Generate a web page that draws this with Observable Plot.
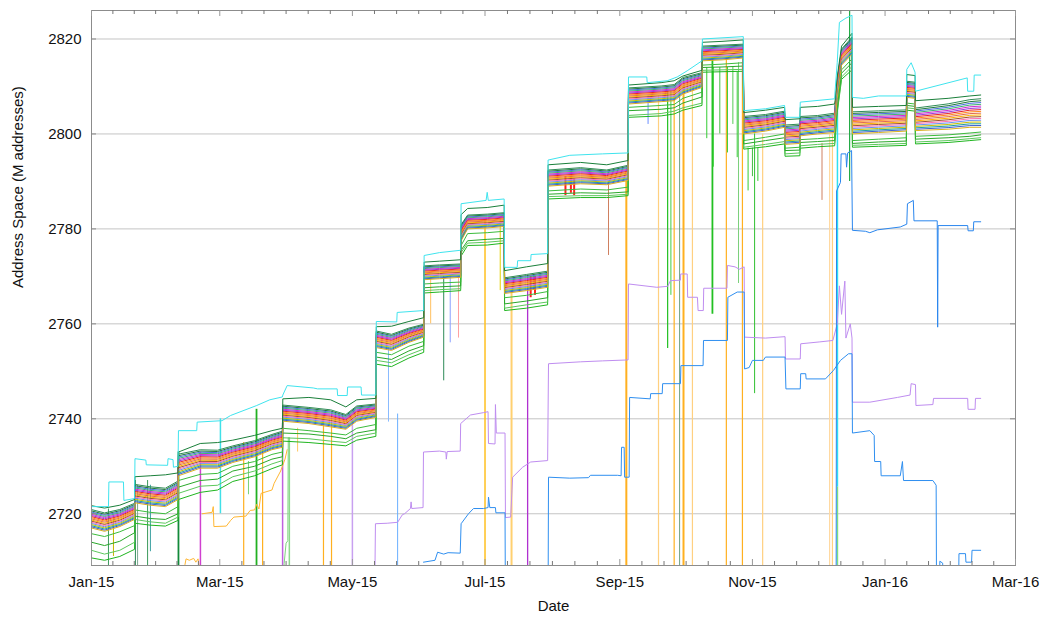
<!DOCTYPE html>
<html><head><meta charset="utf-8">
<script src="https://cdn.jsdelivr.net/npm/d3@7"></script>
<script src="https://cdn.jsdelivr.net/npm/@observablehq/plot@0.6"></script>
<style>body{margin:0;background:#fff;} #chart{width:1043px;height:619px;}</style>
</head><body><div id="chart"></div>
<script>
// ================= DATA (days counted from 2015-01-01, values in M addresses) =================
const majorTickLabels = ["2015-01-01","2015-03-01","2015-05-01","2015-07-01","2015-09-01","2015-11-01","2016-01-01","2016-03-01"];
const yTickValues = [2720, 2740, 2760, 2780, 2800, 2820];

// breakpoints of the main band of routers
const bandDay = [0,6,13,19.8, 20,27,34,39.8, 40,50,58,65,75,83,87.8, 88,100,110,117,122,130.8,
  131,138,146,152.8, 153,160,169.8, 170,173,182,189.8, 190,200,209.8, 210,225,237,246.8,
  247,262,268,272,280.8, 281,290,299.8, 300,310,318.8, 319,325.8, 326,334,341.8,
  342,343,345,349.8, 350,362,374.8, 375,378.8, 379,394,404,409];
const bandTop = [2721.7,2721.2,2721.8,2723.0, 2727.8,2728.0,2728.2,2728.6, 2733.0,2734.8,2735.0,2735.5,2736.5,2737.5,2738.0,
  2744.2,2744.5,2744.0,2742.5,2744.0,2744.3, 2759.4,2759.5,2760.5,2761.3, 2773.0,2773.2,2773.5,
  2783.0,2784.3,2784.5,2785.0, 2771.2,2772.0,2772.7, 2793.5,2794.0,2793.5,2794.4,
  2810.3,2810.8,2811.2,2812.2,2813.4, 2819.3,2819.5,2819.8, 2804.5,2805.0,2805.6, 2803.0,2803.2,
  2805.6,2805.8,2806.3, 2807.0,2812.0,2818.5,2821.2, 2805.6,2805.8,2806.0, 2812.5,2812.3, 2807.0,2807.5,2808.0,2808.2];
const bandHigh = [2721.0,2720.3,2721.0,2722.3, 2726.3,2725.8,2725.5,2727.0, 2732.7,2733.6,2733.5,2734.4,2735.5,2736.8,2737.5,
  2743.0,2742.5,2742.0,2741.0,2742.8,2743.2, 2758.6,2757.9,2759.2,2760.0, 2772.3,2772.5,2772.7,
  2781.0,2783.0,2783.2,2783.5, 2769.8,2770.5,2771.2, 2792.5,2793.0,2792.5,2793.5,
  2809.8,2810.2,2810.5,2812.0,2813.0, 2818.6,2818.8,2819.0, 2803.8,2804.2,2804.9, 2802.0,2802.2,
  2803.8,2804.0,2804.5, 2806.0,2811.5,2818.0,2820.5, 2804.8,2805.0,2805.2, 2811.2,2811.0, 2805.6,2806.5,2807.4,2807.6];
const bandLow = [2717.0,2716.3,2717.3,2718.8, 2722.3,2721.8,2721.5,2723.0, 2728.0,2729.6,2729.6,2730.8,2732.0,2733.5,2734.0,
  2739.5,2739.0,2738.3,2737.8,2739.5,2740.3, 2755.0,2754.4,2756.1,2757.2, 2769.3,2769.5,2769.8,
  2777.5,2780.0,2780.2,2780.5, 2766.4,2767.0,2767.7, 2789.0,2789.5,2789.3,2790.2,
  2806.3,2806.8,2807.0,2808.4,2809.8, 2815.4,2815.6,2816.0, 2800.0,2800.6,2801.4, 2797.8,2798.0,
  2799.6,2800.0,2800.3, 2802.0,2807.5,2814.5,2816.8, 2800.0,2800.3,2800.6, 2807.7,2807.5, 2800.7,2801.0,2801.4,2801.4];
const green1 = [2715.8,2715.2,2716.2,2717.5, 2720.8,2720.3,2720.0,2721.5, 2727.0,2728.3,2728.5,2730.0,2731.0,2732.5,2733.0,
  2738.0,2737.5,2737.0,2736.6,2738.0,2738.8, 2754.0,2753.5,2755.3,2756.3, 2768.4,2768.6,2768.8,
  2776.5,2779.0,2779.2,2779.5, 2765.5,2766.0,2766.8, 2788.0,2788.4,2788.2,2788.8,
  2805.6,2806.0,2806.2,2807.5,2808.8, 2814.5,2814.7,2815.0, 2798.6,2799.3,2800.0, 2797.0,2797.2,
  2798.8,2799.0,2799.3, 2801.0,2806.5,2813.5,2815.8, 2798.6,2798.9,2799.2, 2806.5,2806.3, 2799.5,2799.8,2800.2,2800.4];
const green2 = [2714.0,2713.3,2714.2,2716.0, 2719.5,2719.0,2718.8,2720.0, 2725.6,2727.0,2727.3,2729.0,2730.0,2731.5,2732.0,
  2737.0,2736.8,2736.3,2735.8,2737.0,2737.7, 2753.0,2752.5,2754.3,2755.4, 2767.6,2767.8,2768.0,
  2775.5,2777.5,2777.8,2778.0, 2764.2,2764.8,2765.5, 2787.3,2787.6,2787.5,2787.8,
  2804.9,2805.2,2805.5,2806.5,2807.8, 2814.0,2814.1,2814.3, 2797.9,2798.6,2799.2, 2796.5,2796.6,
  2798.2,2798.4,2798.6, 2800.0,2805.5,2812.8,2815.0, 2798.0,2798.3,2798.5, 2806.0,2805.8, 2798.9,2799.2,2799.5,2799.8];
const green3 = [2712.3,2711.5,2712.3,2714.0, 2718.8,2718.3,2718.0,2719.3, 2724.3,2725.8,2726.0,2727.8,2729.0,2730.5,2731.2,
  2736.0,2735.8,2735.3,2735.0,2736.3,2737.0, 2752.3,2751.8,2753.5,2754.7, 2767.0,2767.2,2767.4,
  2775.0,2777.0,2777.2,2777.5, 2763.3,2764.0,2764.6, 2786.8,2787.0,2787.0,2787.3,
  2803.9,2804.3,2804.8,2805.5,2806.5, 2813.4,2813.5,2813.6, 2797.2,2797.8,2798.4, 2795.8,2796.0,
  2797.5,2797.8,2798.0, 2799.0,2805.0,2812.0,2814.2, 2797.6,2797.8,2798.0, 2805.5,2805.3, 2798.3,2798.6,2799.0,2799.2];
const green4 = [2710.7,2710.2,2711.0,2712.5, 2718.0,2717.6,2717.4,2718.6, 2723.0,2724.5,2725.0,2726.8,2728.0,2729.5,2730.3,
  2735.3,2735.0,2734.6,2734.3,2735.5,2736.3, 2751.5,2751.0,2752.8,2754.0, 2766.5,2766.7,2767.0,
  2774.3,2776.5,2776.6,2777.0, 2762.8,2763.3,2764.0, 2786.3,2786.6,2786.6,2787.0,
  2803.5,2803.8,2804.2,2805.0,2806.0, 2813.0,2813.1,2813.2, 2796.8,2797.3,2797.9, 2795.3,2795.4,
  2797.0,2797.3,2797.5, 2798.5,2804.5,2811.5,2813.5, 2797.2,2797.4,2797.6, 2805.0,2804.8, 2797.9,2798.2,2798.6,2798.8];
// relative position of each router inside the dense band (1 = band high, 0 = band low)
const densePosition = [0.97,0.90,0.84,0.78,0.72,0.66,0.60,0.54,0.48,0.42,0.36,0.30,0.24,0.18,0.12,0.06,0.0];

// topmost (cyan) router
const cyanDay = [0,7.8,8,14.7,14.9,19.8, 20,25,25.2,35,35.2,37.5,37.7,39.8, 40,48.4,48.6,60,64,76,82,87.8,
  88,90,102,104,113,113.2,117.6,117.8,124,124.2,130.8, 131,140.4,140.6,152.8, 153,160,169.8,
  170,181.5,182,182.5,189.8, 190,195.8,196,202,202.2,209.8, 210,220,235,246.8,
  247,255.4,255.6,264.8,269.4,274,280.8, 281,299.8, 300,310,318.8, 319,325.8, 326,341.8,
  342,343,344,347,349.8, 350,355,362,374.8, 375,377,378.8, 379,402.8,403,405.8,406,409];
const cyanVal = [2721.5,2721.5,2726.7,2726.7,2722.8,2723.2, 2731.6,2731.3,2730.3,2730.2,2731.6,2731.4,2729.8,2730.0,
  2737.5,2737.5,2739.3,2739.6,2740.7,2742.8,2744.0,2744.6,
  2745.0,2747.0,2746.5,2746.3,2746.3,2744.9,2744.9,2746.7,2746.7,2745.0,2745.0,
  2760.5,2760.4,2762.4,2762.8, 2774.4,2775.0,2775.5, 2785.3,2786.0,2787.7,2786.0,2786.3,
  2771.9,2771.9,2773.3,2773.3,2774.6,2774.8, 2794.5,2795.5,2795.8,2796.0,
  2812.0,2812.0,2810.8,2811.2,2812.0,2813.3,2815.4, 2820.0,2820.5, 2804.9,2805.3,2806.0, 2803.5,2803.5,
  2806.7,2807.4, 2809.0,2815.0,2823.5,2824.4,2825.0, 2807.7,2807.5,2808.0,2808.0,
  2813.6,2815.0,2813.0, 2809.0,2811.8,2809.0,2809.0,2812.4,2812.4];

// low orange router (Feb–Apr 2015)
const orangeADay = [43,43.5,45,47,48,49,49.5];
const orangeAVal = [2709.3,2710.5,2710.2,2710.6,2709.8,2710.5,2709.0];
const orangeBDay = [51,55.5,56,56.3,62,64,65.5,71,73,75,76,77,78,83,84,87,89,90];
const orangeBVal = [2720.0,2720.3,2721.5,2717.3,2717.4,2718.6,2719.3,2719.5,2720.7,2720.8,2722.0,2721.0,2724.3,2725.0,2726.4,2729.0,2731.5,2733.5];

// light-green router climbing back (early Apr 2015)
const lgreenDay = [88.5,88.6,89.5,90.3,90.5];
const lgreenVal = [2700,2709.5,2713.8,2714.3,2736.0];

// purple router
const purpleDay = [130.4,130.6,136,140.8,143,144,146.7,147,147.3,152.5,152.7,160,163,163.2,163.6,169.6,169.8,174.3,180.3,182.4,182.6,
  185.6,185.8,186.2,190.2,190.4,192.8,193.7,198.3,202,209.8,210.2,225,235,246.8,247,260,265,266.3,270.9,271,274,274.2,
  278.7,279,281.4,281.6,292.3,292.5,296,298,300.2,300.4,310,319,319.2,326,326.2,335,341,343,344,345,346.5,347,349,349.8,
  350,358,370.7,376.5,377,379,379.2,387,387.3,403,403.2,406.4,406.6,409];
const purpleVal = [2709,2717.9,2718.0,2718.2,2719.8,2720.0,2721.1,2722.5,2721.1,2721.3,2733.0,2733.2,2733.0,2731.5,2733.1,2733.2,2739.0,2740.8,2741.3,2741.5,2734.8,
  2734.7,2743.0,2737.0,2737.0,2719.2,2719.3,2727.7,2729.8,2730.9,2731.2,2751.6,2752.0,2752.2,2752.4,2768.4,2767.7,2767.9,2769.1,2769.2,2770.5,2770.5,2765.6,
  2765.6,2762.8,2762.8,2767.5,2767.5,2772.3,2772.0,2771.5,2772.0,2757.2,2757.0,2757.3,2752.6,2752.6,2755.8,2756.2,2756.5,2760.0,2768.0,2762.0,2769.0,2757.0,2760.0,2757.0,
  2743.5,2743.5,2744.5,2745.0,2747.4,2747.2,2742.8,2743.0,2744.3,2744.3,2742.0,2742.0,2744.3,2744.3];

// low blue router
const blueDay = [152.7,158,159.2,162,164,169.6,170,173.4,175.7,180.3,182.4,182.6,183.2,185.8,186,190.2,190.4,210,210.2,220,228.6,229.5,242,243.6,243.8,
  245,245.2,247.3,247.5,257,257.2,262.5,262.7,270.9,271.1,281.3,281.5,292.5,292.7,297,300.2,300.4,302.5,304,309,310,319,319.4,326,326.2,
  328.5,328.7,337.6,341.3,344.5,348.2,349.8,350,358,360,360.2,363,363.2,372,373,373.5,387,388.5,388.7,390,390.2,391.5,392,398.7,399,402,402.2,404.8,405,409];
const blueVal = [2709.8,2710.2,2711.9,2711.5,2711.8,2711.7,2717.9,2720.0,2721.1,2721.1,2721.3,2723.5,2721.3,2721.3,2720.2,2720.2,2700,2700,2727.7,2727.5,2727.6,2728.1,2728.1,2728.0,2734.0,
  2734.0,2727.7,2727.7,2744.5,2744.2,2745.3,2745.3,2747.4,2747.4,2751.2,2751.2,2756.5,2756.5,2765.6,2766.7,2766.7,2750.5,2750.8,2752.3,2752.3,2753.0,2753.0,2746.3,2746.3,2749.5,
  2749.5,2748.4,2748.4,2750.2,2752.3,2753.7,2753.7,2737.0,2737.5,2736.5,2731.0,2731.0,2728.0,2728.0,2731.0,2727.0,2727.0,2726.0,2700,2700,2710.0,2709.6,2700,2700,2711.6,2711.6,2709.8,2709.8,2712.3,2712.3];

// blue router that jumps out of the band in Dec 2015
const blue2Day = [342.5,342.7,344.5,344.8,347,347.3,347.8,349.6,350,356,358,361.5,372,375,375.3,378,378.3,389,389.2,389.4,403,403.2,405.6,405.8,409];
const blue2Val = [2700,2788.0,2789.8,2795.8,2795.8,2793.0,2796.0,2796.5,2779.7,2779.5,2779.2,2779.8,2780.4,2781.0,2785.3,2786.0,2781.7,2781.7,2759.3,2780.7,2780.7,2779.6,2779.6,2781.5,2781.5];

// short outages: day, value before the drop, value reached
const dropDay  = [7.8,10.1,20.2,21.2,25.8,27.1,40,50.1,59.3,70,72.2,75.9,78.7,87.9,91,94.8,106.7,110.4,120,136.6,140.8,
  156,162,165,168.8,181,188,193.2,200.6,202,204,218,220.5,222,237.8,246,256,260.8,265,266.5,268,270.5,272.3,276.4,
  283,285.6,286,289,292,292.5,295,297,297.6,299.4,302,304,305,306.5,308.7,336,339.5,340.8,343.1,343.1,348.7];
const dropFrom = [2721,2719,2727,2726,2727,2726,2733,2733,2740,2735,2731,2742,2735,2739,2736,2738,2740,2740,2740,2755,2741,
  2770,2770,2770,2770,2782,2782,2767,2768,2770,2770,2791,2791,2790.5,2790,2790,2808,2808,2809,2809,2809,2809,2810,2810,
  2814,2816,2814,2814,2816,2814,2814,2813,2815,2815,2797,2797,2800,2797,2800,2798,2800,2800,2812,2725.6,2830];
const dropTo   = [2700,2711,2700,2700,2700,2712,2700,2700,2720,2700,2724,2700,2700,2700,2700,2733,2700,2700,2700,2739.3,2700,
  2760,2748,2756,2757,2700,2767,2700,2700,2765.5,2766,2787,2787.5,2787,2774.4,2700,2802,2700,2754.8,2766,2700,2700,2700,2700,
  2799,2762,2793,2800,2700,2796,2802,2795,2768.5,2700,2788,2791,2745.3,2790,2700,2786,2700,2700,2725.6,2700,2790];

// ================= STYLES =================
const denseColors = ["#2e8b57","#1f7a3a","#4a70e0","#3cb371","#d22ad2","#9b3fd8","#e8202a","#ff8c1a","#e06a50",
  "#ffb000","#a0522d","#ff70b0","#6a90f0","#c8c000","#20a0a0","#3f5fd0","#d9b020"];
const dropColors = ["#3c9a5c","#c8b400","#2e8b57","#7aa890","#3c9a5c","#3aa0a0","#138a3a","#d040d0","#40e0e8","#ffb020","#7ad07a","#22b022","#ffb020","#c060e0","#8cd88c","#ffc860","#ffb020","#ffb020","#c8a0f0","#88bbff","#6ab0ff",
  "#ffc060","#2e8b57","#8aa0ff","#ffa0a0","#ffc020","#e0d000","#ffd070","#b030d0","#ff2020","#ff2020","#ff2020","#ff2020","#ff2020","#d08060","#ffb020","#6a8fff","#ffd080","#22c022","#44cc44","#ffb020","#70a080","#ffb020","#ffd080",
  "#33cc33","#22c022","#33cc33","#44bb44","#ffb020","#33cc33","#55cc55","#33cc33","#7ad07a","#ffb020","#33cc33","#44bb44","#30c030","#33cc33","#ffd080","#d08060","#ffd9a0","#ffd080","#30e0f0","#80e080","#22aa44"];
const dropWidths = [1,1,1,1,1,1,1.8,1.5,1.5,1.2,1,1.8,1.2,1.5,1.5,1,1.2,1.2,1.5,1,1,
  1,1,1,1,1.5,1,2,1.3,2,2,2,2,2,1,2,1,1.2,1.2,1,1.2,1,2,1.2,
  1,1.8,1,1,1.2,1,1,1,1,1.2,1,1,1,1,1.2,1,1.2,1.2,1.5,1.5,1.2];

// ================= BUILD =================
const day0 = Date.UTC(2015, 0, 1);
const toDate = d => new Date(day0 + d * 864e5);
const majorDates = majorTickLabels.map(s => new Date(s + "T00:00:00Z"));
const minorDates = [];
for (let i = 0; i < majorDates.length - 1; i++) {
  const a = +majorDates[i], b = +majorDates[i + 1];
  for (let k = 1; k < 6; k++) minorDates.push(new Date(a + (b - a) * k / 6));
}

function lineMark(days, vals, color, w = 1) {
  const rows = days.map((d, i) => ({x: toDate(d), y: vals[i]}));
  return Plot.line(rows, {x: "x", y: "y", stroke: color, strokeWidth: w, clip: true, strokeLinejoin: "round"});
}

const marks = [];
marks.push(Plot.gridY(yTickValues, {stroke: "#c4c4c4", strokeOpacity: 1}));

// outages
dropDay.forEach((d, i) => {
  marks.push(Plot.ruleX([toDate(d)], {y1: dropFrom[i], y2: dropTo[i], stroke: dropColors[i], strokeWidth: dropWidths[i], clip: true}));
});

// special low series
marks.push(lineMark(orangeADay, orangeAVal, "#ffb733"));
marks.push(lineMark(orangeBDay, orangeBVal, "#ffb733"));
marks.push(lineMark(lgreenDay, lgreenVal, "#7fd67f"));
marks.push(lineMark(purpleDay, purpleVal, "#bf8df0"));
marks.push(lineMark(blueDay, blueVal, "#2f8ff0"));
marks.push(lineMark(blue2Day, blue2Val, "#2a86ee"));

// band: lower greens
marks.push(lineMark(bandDay, green4, "#1fb51f"));
marks.push(lineMark(bandDay, green3, "#5cc85c"));
marks.push(lineMark(bandDay, green2, "#2aa82a"));
marks.push(lineMark(bandDay, green1, "#3cbc3c"));
// dense band
densePosition.forEach((f, j) => {
  const vals = bandDay.map((_, i) => bandLow[i] + f * (bandHigh[i] - bandLow[i]));
  marks.push(lineMark(bandDay, vals, denseColors[j]));
});
marks.push(lineMark(bandDay, bandTop, "#1a7f3a"));
marks.push(lineMark(cyanDay, cyanVal, "#3fe4ee"));

// frame, ticks, axes
const frameW = 1043 - 91 - 28, frameH = 619 - 10 - 54;
marks.push(Plot.frame({stroke: "#8c8c8c"}));
marks.push(Plot.tickX(minorDates, {insetTop: frameH - 4, stroke: "#777"}));
marks.push(Plot.tickX(minorDates, {insetBottom: frameH - 4, stroke: "#777"}));
marks.push(Plot.tickX(majorDates, {insetTop: frameH - 6, stroke: "#999"}));
marks.push(Plot.tickX(majorDates, {insetBottom: frameH - 6, stroke: "#999"}));
marks.push(Plot.tickY(yTickValues, {insetLeft: frameW - 5, stroke: "#888"}));
marks.push(Plot.tickY(yTickValues, {insetRight: frameW - 5, stroke: "#888"}));
marks.push(Plot.axisX(majorDates, {tickFormat: d3.utcFormat("%b-%y"), tickSize: 0, tickPadding: 11, fontSize: 15, label: null}));
marks.push(Plot.axisY(yTickValues, {tickFormat: d => String(d), tickSize: 0, tickPadding: 10, fontSize: 15, label: null}));
marks.push(Plot.text(["Date"], {frameAnchor: "bottom", dy: 45, fontSize: 15, fill: "#111"}));
marks.push(Plot.text(["Address Space (M addresses)"], {frameAnchor: "left", dx: -73, rotate: -90, fontSize: 15, fill: "#111"}));

const chart = Plot.plot({
  width: 1043, height: 619,
  marginLeft: 91, marginRight: 28, marginTop: 10, marginBottom: 54,
  style: {fontFamily: "'Liberation Sans', Arial, Helvetica, sans-serif", fontSize: "15px", background: "#fff", color: "#111"},
  x: {type: "utc", domain: [toDate(0), toDate(425)]},
  y: {domain: [2709.1, 2826]},
  marks
});
document.getElementById("chart").appendChild(chart);
</script>
</body></html>
